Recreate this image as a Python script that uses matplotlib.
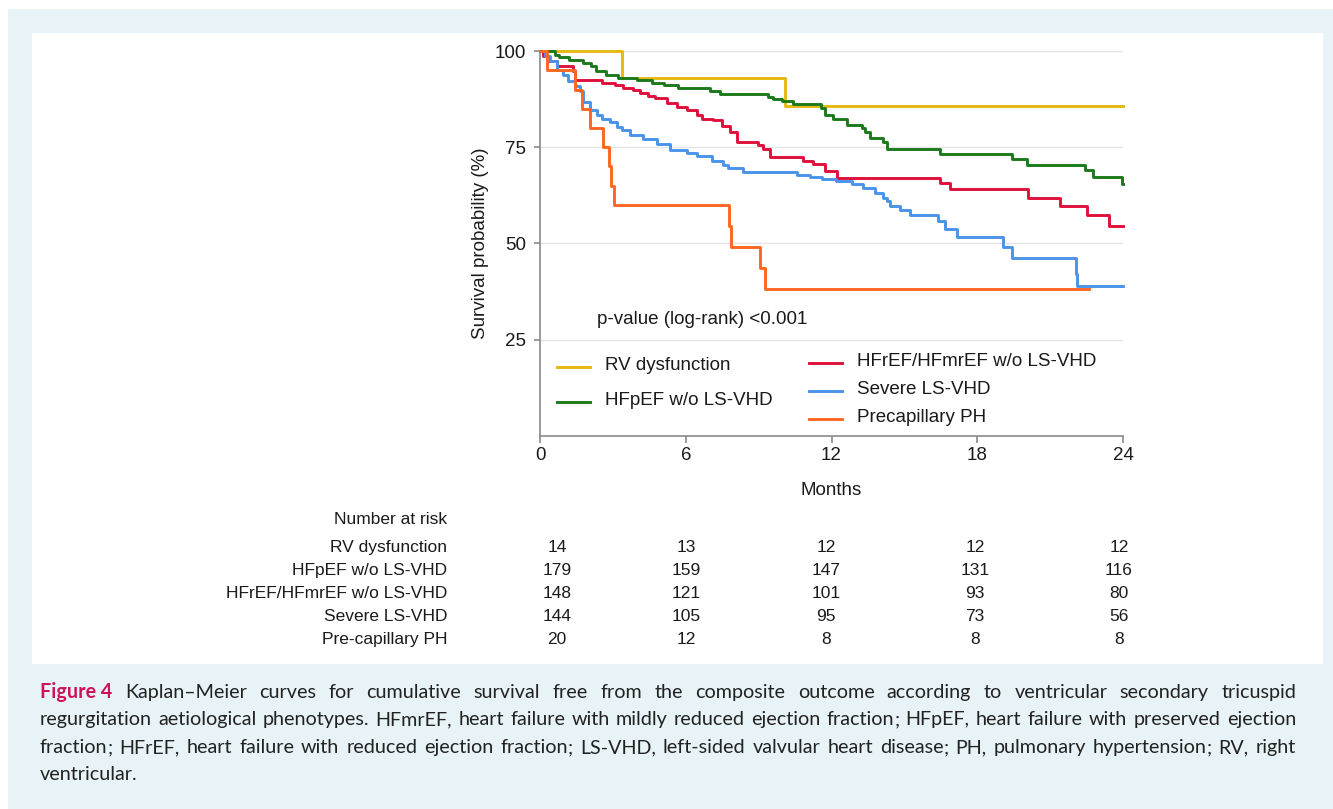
import matplotlib
matplotlib.use("Agg")
import matplotlib.pyplot as plt
from matplotlib.transforms import Affine2D
from matplotlib.patches import Rectangle
from matplotlib.lines import Line2D

W, H = 1333, 809

# Kaplan-Meier curves (months, survival %)
rv_t = [0, 3.39, 10.1, 24]
rv_s = [100, 92.86, 85.71, 85.71]

hfpef_t = [0, 0.6, 0.8, 1.2, 1.75, 2.1, 2.3, 2.7, 3.2, 4.0, 4.6, 5.1, 5.7, 7.0, 7.4,
           9.4, 9.6, 9.96, 10.4, 11.55, 11.73, 12.07, 12.63, 13.24, 13.38, 13.59,
           14.12, 14.27, 16.47, 19.42, 20.04, 22.44, 22.78, 23.97, 24]
hfpef_s = [100, 99.0, 98.4, 97.7, 96.9, 96.0, 94.7, 93.8, 93.1, 92.5, 91.8, 91.2, 90.5,
           89.6, 88.8, 88.1, 87.5, 87.0, 86.2, 85.1, 83.3, 82.4, 80.9, 80.0, 79.0, 77.4,
           76.3, 74.6, 73.3, 72.0, 70.5, 69.1, 67.3, 65.4, 65.4]

hfref_t = [0, 0.14, 0.34, 0.69, 1.37, 1.44, 2.54, 3.09, 3.43, 3.84, 4.12, 4.46, 4.73,
           5.22, 5.63, 6.04, 6.45, 6.65, 7.13, 7.48, 7.82, 8.1, 8.99, 9.19, 9.47, 10.84,
           11.25, 11.73, 12.21, 16.47, 16.88, 20.1, 21.4, 22.5, 23.44, 24]
hfref_s = [100, 98.6, 97.3, 96.0, 94.7, 92.5, 91.8, 91.2, 90.5, 89.9, 89.2, 88.4, 87.7,
           86.4, 85.5, 84.6, 83.3, 82.4, 82.0, 80.5, 79.0, 76.3, 75.6, 74.6, 72.4, 71.5,
           70.6, 68.9, 66.9, 65.6, 64.1, 61.9, 59.7, 57.3, 54.6, 54.6]

vhd_t = [0, 0.2, 0.41, 0.69, 0.96, 1.17, 1.44, 1.65, 1.78, 2.06, 2.33, 2.54, 2.88, 3.16,
         3.36, 3.7, 4.25, 4.8, 5.35, 6.04, 6.45, 7.07, 7.55, 7.75, 8.37, 10.57, 11.1,
         11.6, 12.2, 12.83, 13.31, 13.79, 14.13, 14.27, 14.41, 14.82, 15.23, 16.4, 16.67,
         17.15, 19.05, 19.42, 22.07, 22.12, 24]
vhd_s = [100, 98.6, 97.3, 95.1, 93.8, 92.1, 90.8, 89.5, 86.8, 84.6, 83.3, 82.4, 81.6,
         80.3, 79.4, 78.1, 77.2, 75.9, 74.4, 73.5, 72.7, 71.5, 70.4, 69.5, 68.6, 67.8,
         67.3, 66.7, 66.3, 65.4, 64.3, 63.2, 61.9, 61.0, 59.7, 58.6, 57.3, 55.8, 53.8,
         51.8, 49.1, 46.2, 42.2, 38.9, 38.9]

ph_t = [0, 0.28, 1.44, 1.71, 2.06, 2.6, 2.84, 2.92, 3.05, 7.79, 7.85, 9.06, 9.26, 22.6]
ph_s = [100, 95, 90, 85, 80, 75, 70, 65, 60, 54.5, 49.1, 43.6, 38.2, 38.2]

groups = ["RV dysfunction", "HFpEF w/o LS-VHD", "HFrEF/HFmrEF w/o LS-VHD",
          "Severe LS-VHD", "Precapillary PH"]
colors = ["#e8b812", "#1c7a1c", "#e0103c", "#4a93ea", "#ff6622"]

risk_labels = ["RV dysfunction", "HFpEF w/o LS-VHD", "HFrEF/HFmrEF w/o LS-VHD",
               "Severe LS-VHD", "Pre-capillary PH"]
risk_rv = [14, 13, 12, 12, 12]
risk_hfpef = [179, 159, 147, 131, 116]
risk_hfref = [148, 121, 101, 93, 80]
risk_vhd = [144, 105, 95, 73, 56]
risk_ph = [20, 12, 8, 8, 8]

caption_lines = [
    "Kaplan\u2013Meier curves for cumulative survival free from the composite outcome according to ventricular secondary tricuspid",
    "regurgitation aetiological phenotypes. HFmrEF, heart failure with mildly reduced ejection fraction; HFpEF, heart failure with preserved ejection",
    "fraction; HFrEF, heart failure with reduced ejection fraction; LS-VHD, left-sided valvular heart disease; PH, pulmonary hypertension; RV, right",
    "ventricular.",
]

plt.rcParams["font.family"] = ["Liberation Sans", "DejaVu Sans"]

fig = plt.figure(figsize=(W / 100, H / 100), dpi=100, facecolor="white")
# pixel coordinates, origin at top-left
pix = Affine2D().scale(1 / W, -1 / H).translate(0, 1) + fig.transFigure

fig.patches.append(Rectangle((8, 9), W - 8, H - 9, transform=pix, facecolor="#e7f3f6",
                             edgecolor="none", zorder=-10))
fig.patches.append(Rectangle((32, 33), 1291, 631, transform=pix, facecolor="white",
                             edgecolor="none", zorder=-9))

ax = fig.add_axes([540 / W, 1 - 436 / H, 583 / W, 385 / H])
ax.set_facecolor("none")

curves = [(rv_t, rv_s), (hfpef_t, hfpef_s), (hfref_t, hfref_s), (vhd_t, vhd_s), (ph_t, ph_s)]
for (t, s), c in zip(curves, colors):
    ax.step(t, s, where="post", color=c, lw=2.1, clip_on=False, zorder=3)

ax.set_xlim(0, 24)
ax.set_ylim(0, 100)
ax.set_xticks([0, 6, 12, 18, 24])
ax.set_yticks([25, 50, 75, 100])
ax.grid(axis="y", color="#e4e4e4", lw=1)
ax.set_axisbelow(True)
for side in ["top", "right"]:
    ax.spines[side].set_visible(False)
for side in ["left", "bottom"]:
    ax.spines[side].set_color("#8a8a8a")
    ax.spines[side].set_linewidth(1.2)
ax.tick_params(axis="y", length=4, width=1.2, color="#8a8a8a", pad=6, labelsize=13.5,
               labelcolor="#1a1a1a")
ax.tick_params(axis="x", length=5, width=1.2, color="#8a8a8a", pad=3, labelsize=13.5,
               labelcolor="#1a1a1a")
ax.set_ylabel("Survival probability (%)", fontsize=13.5, color="#1a1a1a", labelpad=4)
ax.set_xlabel("Months", fontsize=13.5, color="#1a1a1a", labelpad=13)

ax.text(597, 320, "p-value (log-rank) <0.001", transform=pix, fontsize=13.5,
        color="#1a1a1a", va="center", ha="left")

# legend drawn by hand: two columns with uneven spacing
leg_pos = [(557, 367), (557, 402), (809, 363), (809, 391), (809, 419)]
for (x, y), lab, c in zip(leg_pos, groups, colors):
    fig.add_artist(Line2D([x, x + 33], [y, y], transform=pix, color=c, lw=2.1))
    fig.text(x + 48, y - 1, lab, transform=pix, fontsize=13.5, color="#1a1a1a",
             va="center", ha="left")

# number at risk table
fig.text(447, 520, "Number at risk", transform=pix, fontsize=12.5, color="#1a1a1a",
         ha="right", va="center")
risk_rows = [risk_rv, risk_hfpef, risk_hfref, risk_vhd, risk_ph]
col_x = [557, 686, 826, 975, 1119]
for i, (lab, row) in enumerate(zip(risk_labels, risk_rows)):
    y = 548 + i * 23
    fig.text(447, y, lab, transform=pix, fontsize=12.5, color="#1a1a1a",
             ha="right", va="center")
    for x, v in zip(col_x, row):
        fig.text(x, y, str(v), transform=pix, fontsize=12.5, color="#1a1a1a",
                 ha="center", va="center")

# caption, justified by hand; a trailing ";" is drawn on its own so the
# word keeps its baseline
renderer = fig.canvas.get_renderer()
cap_font = dict(family=["Lato", "DejaVu Sans"], fontsize=14.2)
left, right = 40, 1296
baselines = [698, 725, 753, 780]
for k, (line, yb) in enumerate(zip(caption_lines, baselines)):
    words = []
    if k == 0:
        words.append(("Figure 4", dict(weight="bold", color="#cc1559")))
    for w in line.split(" "):
        words.append((w, dict(color="#222222")))
    groups_w = []
    for w, st in words:
        parts = [w[:-1], ";"] if w.endswith(";") else [w]
        arts = [fig.text(0, yb, p, transform=pix, va="baseline", ha="left",
                         **cap_font, **st) for p in parts]
        wds = [a.get_window_extent(renderer).width for a in arts]
        groups_w.append((arts, wds))
    total = sum(sum(wds) for _, wds in groups_w)
    if k < len(caption_lines) - 1:
        gap = (right - left - total) / (len(groups_w) - 1)
    else:
        gap = 4.5
    x = left
    for arts, wds in groups_w:
        for a, wd in zip(arts, wds):
            a.set_x(x)
            x += wd
        x += gap

fig.savefig("out.png", dpi=100, facecolor="white")
